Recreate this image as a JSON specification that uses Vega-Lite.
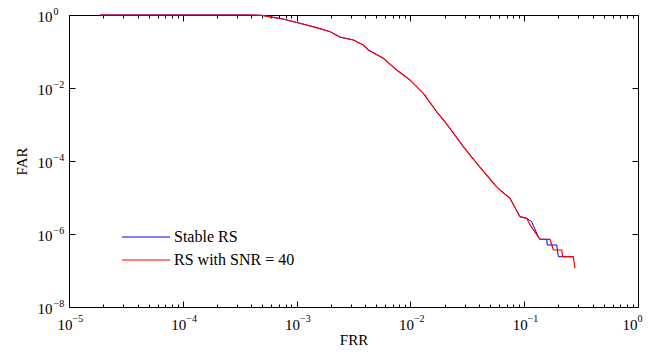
{
  "$schema": "https://vega.github.io/schema/vega-lite/v6.json",
  "width": 569,
  "height": 292,
  "autosize": {"type": "none"},
  "padding": {"left": 69, "top": 15, "right": 12, "bottom": 51},
  "config": {
    "font": "Liberation Serif",
    "view": {"stroke": null},
    "axis": {"grid": false, "zindex": 0, "domainColor": "#000000", "domainWidth": 1, "tickColor": "#000000", "tickWidth": 1, "labelColor": "#000000", "titleColor": "#000000", "labelFont": "Liberation Serif", "titleFont": "Liberation Serif", "labelFontSize": 15, "titleFontSize": 15, "titleFontWeight": "normal", "labelFlush": false, "labelOverlap": false, "labelBound": false}
  },
  "data": {"values": [
    {"s": "Stable RS", "i": 1, "x": 1.87e-5, "y": 1},
    {"s": "Stable RS", "i": 2, "x": 3.9e-4, "y": 1},
    {"s": "Stable RS", "i": 3, "x": 4.97e-4, "y": 0.975},
    {"s": "Stable RS", "i": 4, "x": 5.83e-4, "y": 0.88},
    {"s": "Stable RS", "i": 5, "x": 7.64e-4, "y": 0.77},
    {"s": "Stable RS", "i": 6, "x": 1.07e-3, "y": 0.593},
    {"s": "Stable RS", "i": 7, "x": 1.5e-3, "y": 0.449},
    {"s": "Stable RS", "i": 8, "x": 1.97e-3, "y": 0.349},
    {"s": "Stable RS", "i": 9, "x": 2.41e-3, "y": 0.245},
    {"s": "Stable RS", "i": 10, "x": 3.15e-3, "y": 0.207},
    {"s": "Stable RS", "i": 11, "x": 3.86e-3, "y": 0.151},
    {"s": "Stable RS", "i": 12, "x": 4.27e-3, "y": 0.11},
    {"s": "Stable RS", "i": 13, "x": 5.78e-3, "y": 0.0651},
    {"s": "Stable RS", "i": 14, "x": 7.58e-3, "y": 0.0311},
    {"s": "Stable RS", "i": 15, "x": 9.92e-3, "y": 0.01656},
    {"s": "Stable RS", "i": 16, "x": 0.013, "y": 0.00716},
    {"s": "Stable RS", "i": 17, "x": 0.017, "y": 0.00224},
    {"s": "Stable RS", "i": 18, "x": 0.0206, "y": 0.00108},
    {"s": "Stable RS", "i": 19, "x": 0.0292, "y": 0.000247},
    {"s": "Stable RS", "i": 20, "x": 0.0383, "y": 8.65e-5},
    {"s": "Stable RS", "i": 21, "x": 0.0554, "y": 2.2e-5},
    {"s": "Stable RS", "i": 22, "x": 0.0613, "y": 1.6e-5},
    {"s": "Stable RS", "i": 23, "x": 0.075, "y": 9.5e-6},
    {"s": "Stable RS", "i": 24, "x": 0.0918, "y": 2.98e-6},
    {"s": "Stable RS", "i": 25, "x": 0.1052, "y": 2.69e-6},
    {"s": "Stable RS", "i": 26, "x": 0.1164, "y": 2.17e-6},
    {"s": "Stable RS", "i": 27, "x": 0.133, "y": 8.43e-7},
    {"s": "Stable RS", "i": 28, "x": 0.1377, "y": 7.16e-7},
    {"s": "Stable RS", "i": 29, "x": 0.1578, "y": 7.16e-7},
    {"s": "Stable RS", "i": 30, "x": 0.1597, "y": 5.0e-7},
    {"s": "Stable RS", "i": 31, "x": 0.1932, "y": 5.0e-7},
    {"s": "Stable RS", "i": 32, "x": 0.1995, "y": 2.39e-7},
    {"s": "Stable RS", "i": 33, "x": 0.27, "y": 2.39e-7},
    {"s": "RS with SNR = 40", "i": 1, "x": 1.87e-5, "y": 1},
    {"s": "RS with SNR = 40", "i": 2, "x": 3.9e-4, "y": 1},
    {"s": "RS with SNR = 40", "i": 3, "x": 4.97e-4, "y": 0.98},
    {"s": "RS with SNR = 40", "i": 4, "x": 5.83e-4, "y": 0.898},
    {"s": "RS with SNR = 40", "i": 5, "x": 7.64e-4, "y": 0.777},
    {"s": "RS with SNR = 40", "i": 6, "x": 1.07e-3, "y": 0.593},
    {"s": "RS with SNR = 40", "i": 7, "x": 1.5e-3, "y": 0.449},
    {"s": "RS with SNR = 40", "i": 8, "x": 1.97e-3, "y": 0.349},
    {"s": "RS with SNR = 40", "i": 9, "x": 2.41e-3, "y": 0.25},
    {"s": "RS with SNR = 40", "i": 10, "x": 3.15e-3, "y": 0.207},
    {"s": "RS with SNR = 40", "i": 11, "x": 3.86e-3, "y": 0.151},
    {"s": "RS with SNR = 40", "i": 12, "x": 4.27e-3, "y": 0.11},
    {"s": "RS with SNR = 40", "i": 13, "x": 5.78e-3, "y": 0.0651},
    {"s": "RS with SNR = 40", "i": 14, "x": 7.58e-3, "y": 0.0311},
    {"s": "RS with SNR = 40", "i": 15, "x": 9.92e-3, "y": 0.01656},
    {"s": "RS with SNR = 40", "i": 16, "x": 0.013, "y": 0.00716},
    {"s": "RS with SNR = 40", "i": 17, "x": 0.017, "y": 0.00224},
    {"s": "RS with SNR = 40", "i": 18, "x": 0.0206, "y": 0.00108},
    {"s": "RS with SNR = 40", "i": 19, "x": 0.0292, "y": 0.000247},
    {"s": "RS with SNR = 40", "i": 20, "x": 0.0383, "y": 8.65e-5},
    {"s": "RS with SNR = 40", "i": 21, "x": 0.0554, "y": 2.2e-5},
    {"s": "RS with SNR = 40", "i": 22, "x": 0.0613, "y": 1.6e-5},
    {"s": "RS with SNR = 40", "i": 23, "x": 0.075, "y": 9.5e-6},
    {"s": "RS with SNR = 40", "i": 24, "x": 0.0918, "y": 2.98e-6},
    {"s": "RS with SNR = 40", "i": 25, "x": 0.1052, "y": 2.69e-6},
    {"s": "RS with SNR = 40", "i": 26, "x": 0.1125, "y": 1.77e-6},
    {"s": "RS with SNR = 40", "i": 27, "x": 0.1377, "y": 7.16e-7},
    {"s": "RS with SNR = 40", "i": 28, "x": 0.1686, "y": 7.16e-7},
    {"s": "RS with SNR = 40", "i": 29, "x": 0.1803, "y": 3.65e-7},
    {"s": "RS with SNR = 40", "i": 30, "x": 0.2137, "y": 3.65e-7},
    {"s": "RS with SNR = 40", "i": 31, "x": 0.218, "y": 2.39e-7},
    {"s": "RS with SNR = 40", "i": 32, "x": 0.27, "y": 2.39e-7},
    {"s": "RS with SNR = 40", "i": 33, "x": 0.2794, "y": 1.15e-7}
  ]},
  "layer": [
    {
      "mark": {"type": "line"},
      "encoding": {
        "x": {"field": "x", "type": "quantitative",
          "scale": {"type": "log", "domain": [1e-5, 1], "nice": false},
          "axis": {"orient": "bottom", "title": "FRR", "titlePadding": 0,
            "values": [1e-5, 1e-4, 1e-3, 0.01, 0.1, 1],
            "ticks": false, "labelPadding": 10, "labelAlign": "right", "labelBaseline": "top",
            "labelOffset": {"condition": {"test": "datum.value > 0.5", "value": -1}, "value": 3},
            "labelExpr": "'10'"
          }
        },
        "y": {"field": "y", "type": "quantitative",
          "scale": {"type": "log", "domain": [1e-8, 1], "nice": false},
          "axis": {"orient": "left", "title": "FAR", "titlePadding": 8,
            "values": [1e-8, 1e-6, 1e-4, 1e-2, 1],
            "ticks": false, "labelPadding": 17, "labelAlign": "right", "labelBaseline": "middle",
            "labelOffset": 1,
            "labelExpr": "'10'"
          }
        },
        "color": {"field": "s", "type": "nominal",
          "scale": {"domain": ["Stable RS", "RS with SNR = 40"], "range": ["#0000ff", "#ff0000"]},
          "legend": {"title": null, "orient": "none", "legendX": 69, "legendY": 214, "padding": 0,
            "symbolType": "M-4,0H4", "symbolSize": 144, "symbolStrokeWidth": 1,
            "labelOffset": 20, "labelFont": "Liberation Serif", "labelFontSize": 16, "labelColor": "#000000",
            "rowPadding": 7}
        },
        "strokeWidth": {"field": "s", "type": "nominal",
          "scale": {"domain": ["Stable RS", "RS with SNR = 40"], "range": [1, 1.2]},
          "legend": null},
        "order": {"field": "i", "type": "quantitative"}
      }
    },
    {
      "mark": {"type": "line", "opacity": 0},
      "encoding": {
        "x": {"field": "x", "type": "quantitative",
          "axis": {"orient": "top", "title": null, "labels": false,
            "values": [1e-5, 2e-5, 3e-5, 4e-5, 5e-5, 6e-5, 7e-5, 8e-5, 9e-5, 1e-4, 2e-4, 3e-4, 4e-4, 5e-4, 6e-4, 7e-4, 8e-4, 9e-4, 1e-3, 2e-3, 3e-3, 4e-3, 5e-3, 6e-3, 7e-3, 8e-3, 9e-3, 0.01, 0.02, 0.03, 0.04, 0.05, 0.06, 0.07, 0.08, 0.09, 0.1, 0.2, 0.3, 0.4, 0.5, 0.6, 0.7, 0.8, 0.9, 1],
            "tickSize": {"condition": {"test": "abs(log(datum.value)/LN10 - round(log(datum.value)/LN10)) < 0.001", "value": -6}, "value": -3}
          }
        },
        "y": {"field": "y", "type": "quantitative",
          "axis": {"orient": "right", "title": null, "labels": false,
            "values": [1e-8, 1e-6, 1e-4, 1e-2, 1], "tickSize": -6}
        },
        "detail": {"field": "s"},
        "order": {"field": "i", "type": "quantitative"}
      }
    },
    {
      "mark": {"type": "line", "opacity": 0},
      "encoding": {
        "x": {"field": "x", "type": "quantitative",
          "axis": {"orient": "bottom", "title": null, "labels": false, "domain": false,
            "values": [1e-5, 2e-5, 3e-5, 4e-5, 5e-5, 6e-5, 7e-5, 8e-5, 9e-5, 1e-4, 2e-4, 3e-4, 4e-4, 5e-4, 6e-4, 7e-4, 8e-4, 9e-4, 1e-3, 2e-3, 3e-3, 4e-3, 5e-3, 6e-3, 7e-3, 8e-3, 9e-3, 0.01, 0.02, 0.03, 0.04, 0.05, 0.06, 0.07, 0.08, 0.09, 0.1, 0.2, 0.3, 0.4, 0.5, 0.6, 0.7, 0.8, 0.9, 1],
            "tickSize": {"condition": {"test": "abs(log(datum.value)/LN10 - round(log(datum.value)/LN10)) < 0.001", "value": -6}, "value": -3}
          }
        },
        "y": {"field": "y", "type": "quantitative",
          "axis": {"orient": "left", "title": null, "labels": false, "domain": false,
            "values": [1e-8, 1e-6, 1e-4, 1e-2, 1], "tickSize": -6}
        },
        "detail": {"field": "s"},
        "order": {"field": "i", "type": "quantitative"}
      }
    },
    {
      "mark": {"type": "line", "opacity": 0},
      "encoding": {
        "x": {"field": "x", "type": "quantitative",
          "axis": {"orient": "bottom", "title": null, "domain": false, "ticks": false,
            "values": [1e-5, 1e-4, 1e-3, 0.01, 0.1, 1],
            "labelFontSize": 10, "labelPadding": 6, "labelAlign": "left", "labelBaseline": "top",
            "labelOffset": {"condition": {"test": "datum.value > 0.5", "value": -1}, "value": 3},
            "labelExpr": "format(round(log(datum.value)/LN10), 'd')"
          }
        },
        "y": {"field": "y", "type": "quantitative",
          "axis": {"orient": "left", "title": null, "domain": false, "ticks": false,
            "values": [1e-8, 1e-6, 1e-4, 1e-2, 1],
            "labelFontSize": 10, "labelPadding": 16, "labelAlign": "left", "labelBaseline": "middle",
            "labelOffset": -4,
            "labelExpr": "format(round(log(datum.value)/LN10), 'd')"
          }
        },
        "detail": {"field": "s"},
        "order": {"field": "i", "type": "quantitative"}
      }
    }
  ],
  "resolve": {"axis": {"x": "independent", "y": "independent"}}
}
